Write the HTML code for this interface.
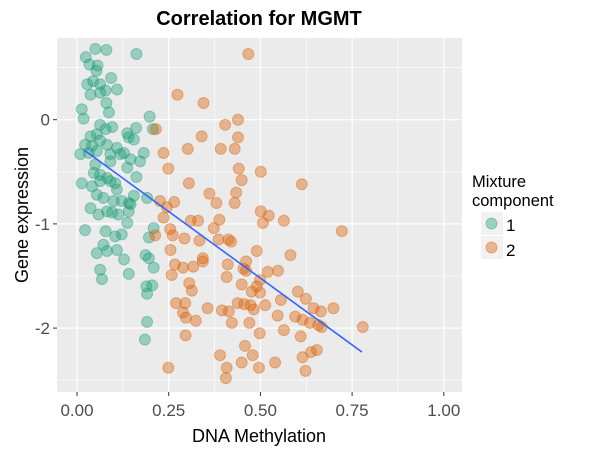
<!DOCTYPE html>
<html><head><meta charset="utf-8"><style>
body{margin:0;background:#fff;}
svg{display:block;font-family:"Liberation Sans",Arial,sans-serif;}
</style></head><body>
<svg id="chart" width="600" height="450" viewBox="0 0 600 450" xmlns="http://www.w3.org/2000/svg">
<rect x="57" y="38" width="405" height="354" fill="#ebebeb"/>
<g id="grid"></g>
<g id="pts"></g>
<g id="fit"></g>
<g id="axes"></g>
<text x="259" y="25" text-anchor="middle" font-size="20" font-weight="bold" fill="#000">Correlation for MGMT</text>
<text x="259" y="442" text-anchor="middle" font-size="18" fill="#000">DNA Methylation</text>
<text transform="translate(28,215) rotate(-90)" text-anchor="middle" font-size="18" fill="#000">Gene expression</text>
<g>
<text x="472" y="187" font-size="16.5" fill="#000">Mixture</text>
<text x="472" y="206" font-size="16.5" fill="#000">component</text>
<rect x="481" y="212" width="22" height="23" fill="#f2f2f2"/>
<circle cx="491.5" cy="223.5" r="5.5" fill="#1b9e77" fill-opacity="0.4" stroke="#1b9e77" stroke-opacity="0.4"/>
<text x="506" y="231" font-size="17" fill="#000">1</text>
<rect x="481" y="236" width="22" height="23" fill="#f2f2f2"/>
<circle cx="491.5" cy="247.5" r="5.5" fill="#d95f02" fill-opacity="0.4" stroke="#d95f02" stroke-opacity="0.4"/>
<text x="506" y="256" font-size="17" fill="#000">2</text>
</g>
</svg>
<script>
const xTicks=[0,0.25,0.5,0.75,1];
const xTickLabels=["0.00","0.25","0.50","0.75","1.00"];
const yTicks=[0,-1,-2];
const yTickLabels=["0","-1","-2"];
const g1X=[0.050,0.080,0.024,0.162,0.034,0.056,0.053,0.093,0.028,0.044,
0.063,0.109,0.037,0.063,0.078,0.080,0.013,0.018,0.087,0.198,
0.207,0.063,0.096,0.137,0.161,0.037,0.054,0.078,0.141,0.155,
0.022,0.041,0.063,0.082,0.109,0.128,0.182,0.009,0.032,0.054,
0.091,0.118,0.146,0.172,0.091,0.137,0.050,0.046,0.063,0.082,
0.104,0.109,0.162,0.013,0.041,0.063,0.091,0.054,0.072,0.100,
0.122,0.141,0.155,0.191,0.037,0.059,0.082,0.096,0.113,0.141,
0.146,0.137,0.022,0.078,0.104,0.122,0.209,0.196,0.072,0.054,
0.082,0.109,0.128,0.187,0.196,0.209,0.063,0.068,0.141,0.189,
0.205,0.191,0.191,0.185];
const g1Y=[0.68,0.67,0.60,0.63,0.53,0.52,0.47,0.40,0.34,0.37,
0.34,0.29,0.24,0.26,0.28,0.16,0.10,0.01,0.07,0.03,
-0.09,-0.05,-0.07,-0.13,-0.08,-0.16,-0.14,-0.09,-0.17,-0.19,
-0.24,-0.25,-0.20,-0.24,-0.27,-0.32,-0.32,-0.33,-0.32,-0.30,
-0.33,-0.33,-0.38,-0.40,-0.40,-0.46,-0.43,-0.51,-0.53,-0.56,
-0.61,-0.67,-0.55,-0.61,-0.64,-0.59,-0.59,-0.72,-0.75,-0.78,
-0.78,-0.80,-0.73,-0.75,-0.85,-0.91,-0.88,-0.89,-0.91,-0.88,
-0.81,-0.99,-1.06,-1.07,-1.12,-1.10,-1.04,-1.13,-1.20,-1.28,
-1.26,-1.25,-1.34,-1.30,-1.33,-1.42,-1.44,-1.53,-1.48,-1.60,
-1.59,-1.67,-1.94,-2.11];
const g2X=[0.467,0.274,0.345,0.439,0.404,0.340,0.439,0.302,0.392,0.430,
0.236,0.249,0.441,0.501,0.449,0.305,0.613,0.361,0.434,0.380,
0.430,0.226,0.265,0.245,0.236,0.501,0.523,0.507,0.564,0.310,
0.330,0.388,0.373,0.254,0.261,0.293,0.334,0.386,0.413,0.420,
0.722,0.255,0.490,0.582,0.343,0.343,0.461,0.267,0.289,0.317,
0.411,0.454,0.461,0.520,0.548,0.258,0.408,0.499,0.449,0.490,
0.306,0.313,0.476,0.499,0.602,0.624,0.556,0.270,0.295,0.356,
0.395,0.414,0.438,0.456,0.473,0.482,0.513,0.645,0.665,0.699,
0.289,0.297,0.324,0.422,0.470,0.547,0.595,0.615,0.635,0.658,
0.667,0.779,0.296,0.498,0.564,0.610,0.458,0.479,0.390,0.615,
0.638,0.654,0.249,0.408,0.449,0.496,0.540,0.623,0.406,0.215,
0.213];
const g2Y=[0.63,0.24,0.16,0.00,-0.05,-0.16,-0.17,-0.28,-0.28,-0.28,
-0.32,-0.47,-0.47,-0.50,-0.58,-0.61,-0.62,-0.71,-0.70,-0.80,
-0.80,-0.78,-0.79,-0.84,-0.94,-0.88,-0.92,-0.99,-0.97,-0.97,
-0.97,-0.96,-1.04,-1.05,-1.11,-1.14,-1.16,-1.15,-1.15,-1.17,
-1.07,-1.25,-1.26,-1.30,-1.33,-1.36,-1.36,-1.39,-1.42,-1.41,
-1.39,-1.43,-1.45,-1.46,-1.45,-1.49,-1.51,-1.54,-1.58,-1.60,
-1.57,-1.64,-1.65,-1.66,-1.65,-1.72,-1.73,-1.76,-1.76,-1.81,
-1.83,-1.84,-1.76,-1.77,-1.78,-1.82,-1.78,-1.81,-1.84,-1.81,
-1.85,-1.90,-1.93,-1.95,-1.95,-1.88,-1.89,-1.92,-1.95,-1.97,
-1.99,-1.99,-2.07,-2.05,-2.02,-2.08,-2.17,-2.26,-2.26,-2.28,
-2.23,-2.21,-2.38,-2.38,-2.33,-2.38,-2.33,-2.41,-2.48,-0.09,
-1.11];
const fitX=[0.019,0.777];
const fitY=[-0.29,-2.23];

const NS="http://www.w3.org/2000/svg";
const sx=v=>77+v*366.8;
const sy=v=>119.7-v*104.2;
function mk(tag,attrs,parent){const e=document.createElementNS(NS,tag);for(const k in attrs)e.setAttribute(k,attrs[k]);parent.appendChild(e);return e;}
const grid=document.getElementById('grid');
[-0.125,0.125,0.375,0.625,0.875].forEach(v=>{
 const l=mk('line',{x1:sx(v),x2:sx(v),y1:38,y2:392,stroke:'#fff','stroke-width':0.6},grid);
 
 
});
[0.5,-0.5,-1.5,-2.5].forEach(v=>{
 const l=mk('line',{x1:57,x2:462,y1:sy(v),y2:sy(v),stroke:'#fff','stroke-width':0.6},grid);
 
 
});
const axes=document.getElementById('axes');
xTicks.forEach((v,i)=>{
 const l=mk('line',{x1:sx(v),x2:sx(v),y1:38,y2:392,stroke:'#fff','stroke-width':1.2},grid);
 
 
 const t=mk('line',{x1:sx(v),x2:sx(v),y1:392,y2:396,stroke:'#333','stroke-width':1},axes);
 
 
 const tx=mk('text',{x:sx(v),y:416,'text-anchor':'middle','font-size':17,fill:'#4d4d4d'},axes);
 tx.textContent=xTickLabels[i];
 
 
});
yTicks.forEach((v,i)=>{
 const l=mk('line',{x1:57,x2:462,y1:sy(v),y2:sy(v),stroke:'#fff','stroke-width':1.2},grid);
 
 
 const t=mk('line',{x1:53,x2:57,y1:sy(v),y2:sy(v),stroke:'#333','stroke-width':1},axes);
 
 
 const tx=mk('text',{x:50,y:sy(v)+6,'text-anchor':'end','font-size':17,fill:'#4d4d4d'},axes);
 tx.textContent=yTickLabels[i];
 
 
});
const pts=document.getElementById('pts');
function drawSeries(xs,ys,col,name){
 xs.forEach((x,i)=>{
  const c=mk('circle',{cx:sx(x),cy:sy(ys[i]),r:5.5,fill:col,'fill-opacity':0.4,stroke:col,'stroke-opacity':0.4,'stroke-width':1},pts);
  
  
 });
}
drawSeries(g1X,g1Y,'#1b9e77','point-component-1');
drawSeries(g2X,g2Y,'#d95f02','point-component-2');
const fl=mk('line',{x1:sx(fitX[0]),y1:sy(fitY[0]),x2:sx(fitX[1]),y2:sy(fitY[1]),stroke:'#3366ff','stroke-width':1.6},document.getElementById('fit'));


</script>
</body></html>
